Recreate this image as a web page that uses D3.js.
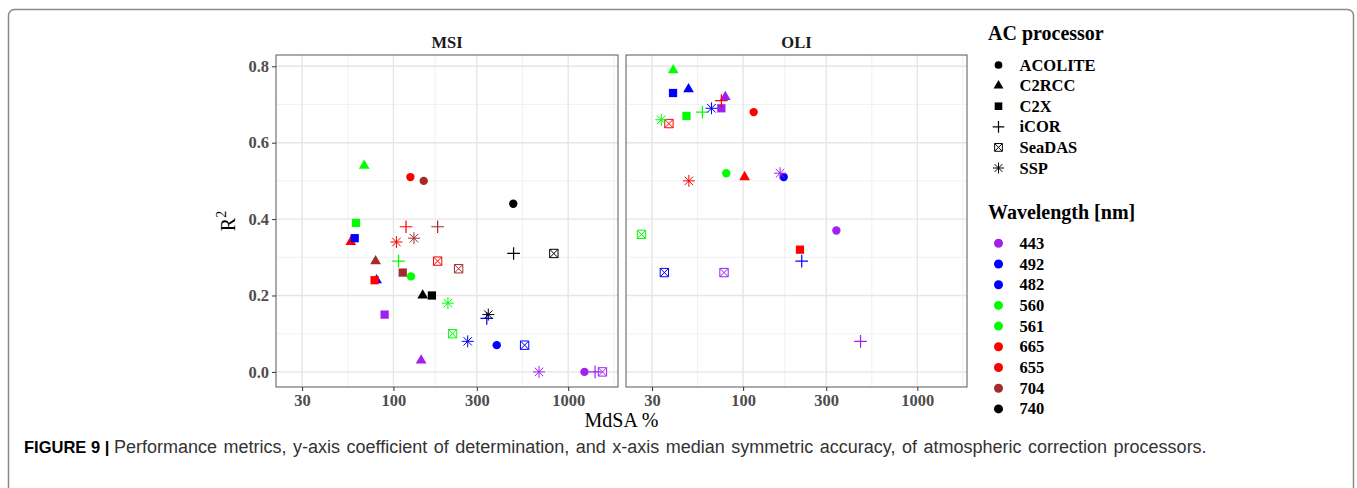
<!DOCTYPE html>
<html>
<head>
<meta charset="utf-8">
<script src="https://cdn.jsdelivr.net/npm/d3@7"></script>
<style>
  body { margin: 0; background: #fff; }
  .tick-label { font-family: "Liberation Serif", serif; font-weight: bold; font-size: 16.5px; fill: #4d4d4d; }
  .strip { font-family: "Liberation Serif", serif; font-weight: bold; font-size: 16.5px; fill: #1a1a1a; }
  .axis-title { font-family: "Liberation Serif", serif; font-size: 20px; fill: #000; }
  .legend-title { font-family: "Liberation Serif", serif; font-weight: bold; font-size: 20px; fill: #000; }
  .legend-label { font-family: "Liberation Serif", serif; font-weight: bold; font-size: 16.5px; fill: #000; }
  .caption { font-family: "Liberation Sans", Arial, sans-serif; font-size: 18px; fill: #333; }
</style>
</head>
<body>
<script>
// Processors (shape) and wavelengths (colour)
var processors = ["ACOLITE", "C2RCC", "C2X", "iCOR", "SeaDAS", "SSP"];
var wavelengths = ["443", "492", "482", "560", "561", "665", "655", "704", "740"];
var waveColors = ["#A020F0", "#0000FF", "#0000FF", "#00FF00", "#00FF00", "#FF0000", "#FF0000", "#A52A2A", "#000000"];

// MSI bands and values (rows = processors, cols = bands)
var msiBands = ["443", "492", "560", "665", "704", "740"];
var msiMdSA = [
  [1240, 390, 126, 125, 149, 485],   // ACOLITE
  [144, 80, 68, 57, 79, 147],        // C2RCC
  [89, 60, 61, 78, 113, 166],        // C2X
  [1426, 342, 107, 118, 179, 487],   // iCOR
  [1571, 563, 218, 179, 236, 828],   // SeaDAS
  [681, 266, 205, 104, 131, 349]     // SSP
];
var msiR2 = [
  [0.00, 0.07, 0.25, 0.51, 0.50, 0.44],
  [0.03, 0.24, 0.54, 0.34, 0.29, 0.20],
  [0.15, 0.35, 0.39, 0.24, 0.26, 0.20],
  [0.00, 0.14, 0.29, 0.38, 0.38, 0.31],
  [0.00, 0.07, 0.10, 0.29, 0.27, 0.31],
  [0.00, 0.08, 0.18, 0.34, 0.35, 0.15]
];

// OLI bands and values
var oliBands = ["443", "482", "561", "655"];
var oliMdSA = [
  [343, 171, 80, 115],
  [79, 48.6, 39.7, 102],
  [75, 39.6, 47.3, 212],
  [472, 217, 58.4, 75],
  [77.7, 35.3, 26.1, 37.5],
  [163, 65.8, 33.9, 48.8]
];
var oliR2 = [
  [0.37, 0.51, 0.52, 0.68],
  [0.72, 0.74, 0.79, 0.51],
  [0.69, 0.73, 0.67, 0.32],
  [0.08, 0.29, 0.68, 0.71],
  [0.26, 0.26, 0.36, 0.65],
  [0.52, 0.69, 0.66, 0.50]
];

var xTicks = [30, 100, 300, 1000];
var yTicks = [0.0, 0.2, 0.4, 0.6, 0.8];

// custom symbol types (ggplot shapes 3, 7, 8)
var plusType = {draw: function(c, s) {
  var r = Math.sqrt(s) / 2;
  c.moveTo(-r, 0); c.lineTo(r, 0); c.moveTo(0, -r); c.lineTo(0, r);
}};
var boxXType = {draw: function(c, s) {
  var r = Math.sqrt(s) / 2;
  c.rect(-r, -r, 2 * r, 2 * r);
  c.moveTo(-r, -r); c.lineTo(r, r); c.moveTo(r, -r); c.lineTo(-r, r);
}};
var asteriskType = {draw: function(c, s) {
  var r = Math.sqrt(s) / 2, d = r * Math.SQRT1_2;
  c.moveTo(-r, 0); c.lineTo(r, 0); c.moveTo(0, -r); c.lineTo(0, r);
  c.moveTo(-d, -d); c.lineTo(d, d); c.moveTo(d, -d); c.lineTo(-d, d);
}};
var shapes = [
  {type: d3.symbolCircle, size: 55, filled: true},
  {type: d3.symbolTriangle, size: 50, filled: true},
  {type: d3.symbolSquare, size: 68, filled: true},
  {type: plusType, size: 160, filled: false, sw: 1.2},
  {type: boxXType, size: 70, filled: false, sw: 1},
  {type: asteriskType, size: 144, filled: false, sw: 1}
];

var svg = d3.select("body").append("svg")
  .attr("width", 1357).attr("height", 488);

// outer frame
svg.append("rect")
  .attr("x", 8.5).attr("y", 9.5).attr("width", 1345).attr("height", 500)
  .attr("rx", 6).attr("fill", "none").attr("stroke", "#8a8a8a").attr("stroke-width", 1.5);

// scales (ggplot style 5% expansion)
var allX = d3.merge(msiMdSA).concat(d3.merge(oliMdSA));
var allY = d3.merge(msiR2).concat(d3.merge(oliR2));
var lx = d3.extent(allX).map(Math.log10), ex = (lx[1] - lx[0]) * 0.05;
var xDomain = [Math.pow(10, lx[0] - ex), Math.pow(10, lx[1] + ex)];
var ly = d3.extent(allY), ey = (ly[1] - ly[0]) * 0.05;
var yScale = d3.scaleLinear().domain([ly[0] - ey, ly[1] + ey]).range([387, 55]);

// minor breaks as midpoints in log space (incl. extension like ggplot)
var lb = xTicks.map(Math.log10), bd = lb[1] - lb[0];
var lbx = [lb[0] - bd].concat(lb, [lb[lb.length - 1] + bd]);
var xMinor = d3.pairs(lbx).map(function(p) { return Math.pow(10, (p[0] + p[1]) / 2); })
  .filter(function(v) { return v > xDomain[0] && v < xDomain[1]; });
var yMinor = [0.1, 0.3, 0.5, 0.7];

var panels = [
  {name: "MSI", left: 276, right: 618, bands: msiBands, mdsa: msiMdSA, r2: msiR2},
  {name: "OLI", left: 626, right: 967, bands: oliBands, mdsa: oliMdSA, r2: oliR2}
];

panels.forEach(function(p, pi) {
  var x = d3.scaleLog().domain(xDomain).range([p.left, p.right]);
  var g = svg.append("g");

  // grid
  g.selectAll(".ymin").data(yMinor).enter().append("line")
    .attr("x1", p.left).attr("x2", p.right)
    .attr("y1", yScale).attr("y2", yScale)
    .attr("stroke", "#efefef").attr("stroke-width", 0.9);
  g.selectAll(".xmin").data(xMinor).enter().append("line")
    .attr("y1", 55).attr("y2", 387)
    .attr("x1", x).attr("x2", x)
    .attr("stroke", "#efefef").attr("stroke-width", 0.9);
  g.selectAll(".ymaj").data(yTicks).enter().append("line")
    .attr("x1", p.left).attr("x2", p.right)
    .attr("y1", yScale).attr("y2", yScale)
    .attr("stroke", "#e6e6e6").attr("stroke-width", 1.4);
  g.selectAll(".xmaj").data(xTicks).enter().append("line")
    .attr("y1", 55).attr("y2", 387)
    .attr("x1", x).attr("x2", x)
    .attr("stroke", "#e6e6e6").attr("stroke-width", 1.4);

  // points
  p.mdsa.forEach(function(row, ri) {
    var sh = shapes[ri];
    var sym = d3.symbol().type(sh.type).size(sh.size);
    row.forEach(function(v, bi) {
      var col = waveColors[wavelengths.indexOf(p.bands[bi])];
      g.append("path")
        .attr("d", sym())
        .attr("transform", "translate(" + x(v) + "," + yScale(p.r2[ri][bi]) + ")")
        .attr("fill", sh.filled ? col : "none")
        .attr("stroke", sh.filled ? "none" : col)
        .attr("stroke-width", sh.sw || 0);
    });
  });

  // border
  g.append("rect")
    .attr("x", p.left).attr("y", 55)
    .attr("width", p.right - p.left).attr("height", 332)
    .attr("fill", "none").attr("stroke", "#666").attr("stroke-width", 1.1);

  // x axis
  var xAxis = g.append("g").attr("transform", "translate(0,387)")
    .call(d3.axisBottom(x).tickValues(xTicks).tickFormat(d3.format("d")).tickSize(4).tickPadding(3));
  xAxis.select(".domain").remove();
  xAxis.selectAll(".tick line").attr("stroke", "#333");
  xAxis.selectAll("text").attr("class", "tick-label").attr("fill", null).attr("font-size", null).attr("font-family", null);

  if (pi === 0) {
    var yAxis = g.append("g").attr("transform", "translate(" + p.left + ",0)")
      .call(d3.axisLeft(yScale).tickValues(yTicks).tickFormat(d3.format(".1f")).tickSize(4).tickPadding(3));
    yAxis.select(".domain").remove();
    yAxis.selectAll(".tick line").attr("stroke", "#333");
    yAxis.selectAll("text").attr("class", "tick-label").attr("fill", null).attr("font-size", null).attr("font-family", null);
  }

  // strip label
  g.append("text").attr("class", "strip")
    .attr("x", (p.left + p.right) / 2).attr("y", 47.5)
    .attr("text-anchor", "middle").text(p.name);
});

// axis titles
svg.append("text").attr("class", "axis-title")
  .attr("x", 621.5).attr("y", 427).attr("text-anchor", "middle")
  .text("MdSA %");
var yt = svg.append("text").attr("class", "axis-title")
  .attr("transform", "translate(235,221) rotate(-90)")
  .attr("text-anchor", "middle");
yt.append("tspan").text("R");
yt.append("tspan").attr("dy", -9).attr("font-size", "14px").text("2");

// legends
var leg = svg.append("g");
leg.append("text").attr("class", "legend-title").attr("x", 988).attr("y", 40).text("AC processor");
processors.forEach(function(name, i) {
  var cy = 65 + i * 20.6, sh = shapes[i];
  leg.append("path")
    .attr("d", d3.symbol().type(sh.type).size(sh.size * 0.85)())
    .attr("transform", "translate(998.5," + cy + ")")
    .attr("fill", sh.filled ? "#000" : "none")
    .attr("stroke", sh.filled ? "none" : "#000")
    .attr("stroke-width", sh.sw || 0);
  leg.append("text").attr("class", "legend-label")
    .attr("x", 1019.5).attr("y", cy + 5.5).text(name);
});
leg.append("text").attr("class", "legend-title").attr("x", 988).attr("y", 219).text("Wavelength [nm]");
wavelengths.forEach(function(w, i) {
  var cy = 243.3 + i * 20.7;
  leg.append("circle").attr("cx", 998.5).attr("cy", cy).attr("r", 4.5).attr("fill", waveColors[i]);
  leg.append("text").attr("class", "legend-label")
    .attr("x", 1019.5).attr("y", cy + 5.5).text(w);
});

// caption
var cap = svg.append("text").attr("class", "caption").attr("x", 24).attr("y", 453);
cap.append("tspan").attr("font-weight", "bold").attr("font-size", "16.5px").attr("fill", "#000").text("FIGURE 9 | ");
cap.append("tspan").attr("word-spacing", "1.5px")
  .text("Performance metrics, y-axis coefficient of determination, and x-axis median symmetric accuracy, of atmospheric correction processors.");
</script>
</body>
</html>
